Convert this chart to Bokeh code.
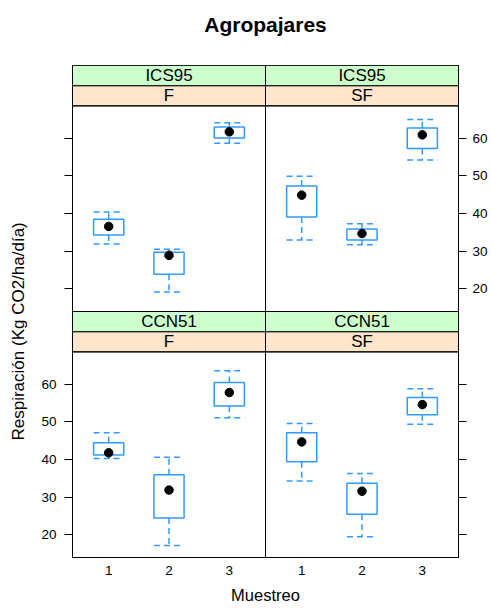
from bokeh.plotting import figure
from bokeh.models import ColumnDataSource, FixedTicker, LinearAxis, Range1d, Title
from bokeh.core.properties import value
from bokeh.embed import file_html
from bokeh.resources import INLINE

# ---------------- data ----------------
title_text = "Agropajares"
x_label = "Muestreo"
y_label = "Respiración (Kg CO2/ha/día)"

variedad = ["ICS95", "ICS95", "CCN51", "CCN51"]   # outer strip (green)
manejo = ["F", "SF", "F", "SF"]                   # inner strip (orange)
muestreo = [1, 2, 3]
y_ticks = [20, 30, 40, 50, 60]

# one row per panel, one value per muestreo
whisker_low = [[31.9, 19.2, 58.7], [33.0, 31.7, 54.2], [40.3, 17.2, 51.1], [34.3, 19.5, 49.4]]
cuartil_1 = [[34.3, 23.9, 60.1], [39.1, 33.0, 57.3], [41.2, 24.5, 54.2], [39.4, 25.5, 51.9]]
mediana = [[36.6, 28.9, 61.7], [44.9, 34.7, 60.9], [41.8, 31.9, 57.8], [44.7, 31.6, 54.6]]
cuartil_3 = [[38.5, 29.7, 63.0], [47.3, 35.9, 62.7], [44.5, 36.0, 60.5], [47.1, 33.7, 56.5]]
whisker_high = [[40.4, 30.5, 64.1], [49.9, 37.3, 65.0], [47.1, 40.6, 63.6], [49.6, 36.3, 58.8]]

# ---------------- layout constants ----------------
FONT = "Liberation Sans"
BLUE = "#3399ff"
X_LO, X_HI = 0.4, 3.6
Y_LO, Y_HI = 14.0, 68.6
STRIP = 5.36
PANEL_W = X_HI - X_LO
PANEL_H = (Y_HI - Y_LO) + 2 * STRIP
BOX_HALF = 0.25


def offsets(i):
    col = i % 2
    row = i // 2  # 0 = top row
    return col * PANEL_W, (1 - row) * PANEL_H


cols = {k: [] for k in ["x", "left", "right", "lo", "q1", "med", "q3", "hi"]}
for i in range(len(variedad)):
    dx, dy = offsets(i)
    for j, m in enumerate(muestreo):
        cols["x"].append(m + dx)
        cols["left"].append(m + dx - BOX_HALF)
        cols["right"].append(m + dx + BOX_HALF)
        cols["lo"].append(whisker_low[i][j] + dy)
        cols["q1"].append(cuartil_1[i][j] + dy)
        cols["med"].append(mediana[i][j] + dy)
        cols["q3"].append(cuartil_3[i][j] + dy)
        cols["hi"].append(whisker_high[i][j] + dy)
src = ColumnDataSource(cols)

p = figure(width=490, height=608,
           x_range=Range1d(X_LO, X_LO + 2 * PANEL_W),
           y_range=Range1d(Y_LO, Y_LO + 2 * PANEL_H),
           output_backend="svg", toolbar_location=None,
           min_border_left=72, min_border_right=29,
           min_border_top=65, min_border_bottom=51)
p.xgrid.visible = False
p.ygrid.visible = False
p.outline_line_color = "black"
p.outline_line_width = 1
p.background_fill_color = "white"
p.border_fill_color = "white"

# the default axes, taken before any other axis is added
bx = p.below[0]
ly = p.left[0]

# panels and strips
pl, pr, pb, pt = [], [], [], []
gb, gt, ob, ot = [], [], [], []
tx, ty_g, ty_o = [], [], []
for i in range(len(variedad)):
    dx, dy = offsets(i)
    pl.append(X_LO + dx)
    pr.append(X_HI + dx)
    pb.append(Y_LO + dy)
    pt.append(Y_HI + dy)
    ob.append(Y_HI + dy)
    ot.append(Y_HI + dy + STRIP)
    gb.append(Y_HI + dy + STRIP)
    gt.append(Y_HI + dy + 2 * STRIP)
    tx.append((X_LO + X_HI) / 2 + dx)
    ty_o.append(Y_HI + dy + STRIP / 2)
    ty_g.append(Y_HI + dy + 1.5 * STRIP)

p.quad(left=pl, right=pr, bottom=ob, top=ot, fill_color="#ffe5cc",
       line_color="black", line_width=1)
p.quad(left=pl, right=pr, bottom=gb, top=gt, fill_color="#ccffcc",
       line_color="black", line_width=1)
p.quad(left=pl, right=pr, bottom=pb, top=pt, fill_color=None,
       line_color="black", line_width=1)
p.text(x=tx, y=ty_g, text=variedad, text_font=value(FONT), text_font_size="17px",
       text_align="center", text_baseline="middle", text_color="black")
p.text(x=tx, y=ty_o, text=manejo, text_font=value(FONT), text_font_size="17px",
       text_align="center", text_baseline="middle", text_color="black")

# box and whiskers
dash = "6 4"
p.segment(x0="x", y0="q3", x1="x", y1="hi", source=src, line_color=BLUE,
          line_width=1.5, line_dash=dash)
p.segment(x0="x", y0="q1", x1="x", y1="lo", source=src, line_color=BLUE,
          line_width=1.5, line_dash=dash)
p.segment(x0="left", y0="hi", x1="right", y1="hi", source=src, line_color=BLUE,
          line_width=1.5, line_dash=dash)
p.segment(x0="left", y0="lo", x1="right", y1="lo", source=src, line_color=BLUE,
          line_width=1.5, line_dash=dash)
p.quad(left="left", right="right", bottom="q1", top="q3", source=src,
       fill_color=None, line_color=BLUE, line_width=1.5)
p.scatter(x="x", y="med", source=src, size=8.5, color="black")

# axes
_, top_dy = offsets(0)
lower_ticks = [float(t) for t in y_ticks]
upper_ticks = [t + top_dy for t in y_ticks]
all_y_ticks = lower_ticks + upper_ticks

left_ov = {t: "" for t in upper_ticks}
right_ov = {t: "" for t in lower_ticks}
right_ov.update({u: str(v) for u, v in zip(upper_ticks, y_ticks)})

x_ticks, x_ov = [], {}
for i in range(2):
    dx, _ = offsets(i)
    for m in muestreo:
        x_ticks.append(m + dx)
        x_ov[m + dx] = str(m)


def style_axis(ax):
    ax.axis_line_color = "black"
    ax.major_tick_line_color = "black"
    ax.minor_tick_line_color = None
    ax.major_tick_in = 0
    ax.major_tick_out = 8
    ax.major_label_text_font = FONT
    ax.major_label_text_font_size = "13.5px"
    ax.major_label_text_color = "black"
    ax.axis_label_text_font = FONT
    ax.axis_label_text_font_style = "normal"
    ax.axis_label_text_color = "black"


style_axis(ly)
ly.ticker = FixedTicker(ticks=all_y_ticks)
ly.major_label_overrides = left_ov
ly.major_label_standoff = 8

ry = LinearAxis()
style_axis(ry)
ry.ticker = FixedTicker(ticks=all_y_ticks)
ry.major_label_overrides = right_ov
ry.major_label_standoff = 6
p.add_layout(ry, "right")

style_axis(bx)
bx.ticker = FixedTicker(ticks=x_ticks)
bx.major_label_overrides = x_ov
bx.major_tick_out = 0
bx.major_label_standoff = 8
bx.axis_label = x_label
bx.axis_label_text_font_size = "16.5px"
bx.axis_label_standoff = 8

# main title, drawn as the label of an otherwise empty top axis
tax = LinearAxis(ticker=FixedTicker(ticks=[]))
tax.axis_line_color = None
tax.major_tick_line_color = None
tax.minor_tick_line_color = None
tax.major_tick_out = 0
tax.axis_label = title_text
tax.axis_label_text_font = FONT
tax.axis_label_text_font_size = "21px"
tax.axis_label_text_font_style = "bold"
tax.axis_label_text_color = "black"
tax.axis_label_standoff = 30
p.add_layout(tax, "above")

# y axis title (as a side title, so it can sit below the frame centre)
p.add_layout(Title(text=y_label, align="left", offset=117, vertical_align="top",
                   standoff=17, text_font=FONT, text_font_size="17px",
                   text_font_style="normal", text_color="black"), "left")

open("out.html", "w").write(file_html(p, INLINE))
